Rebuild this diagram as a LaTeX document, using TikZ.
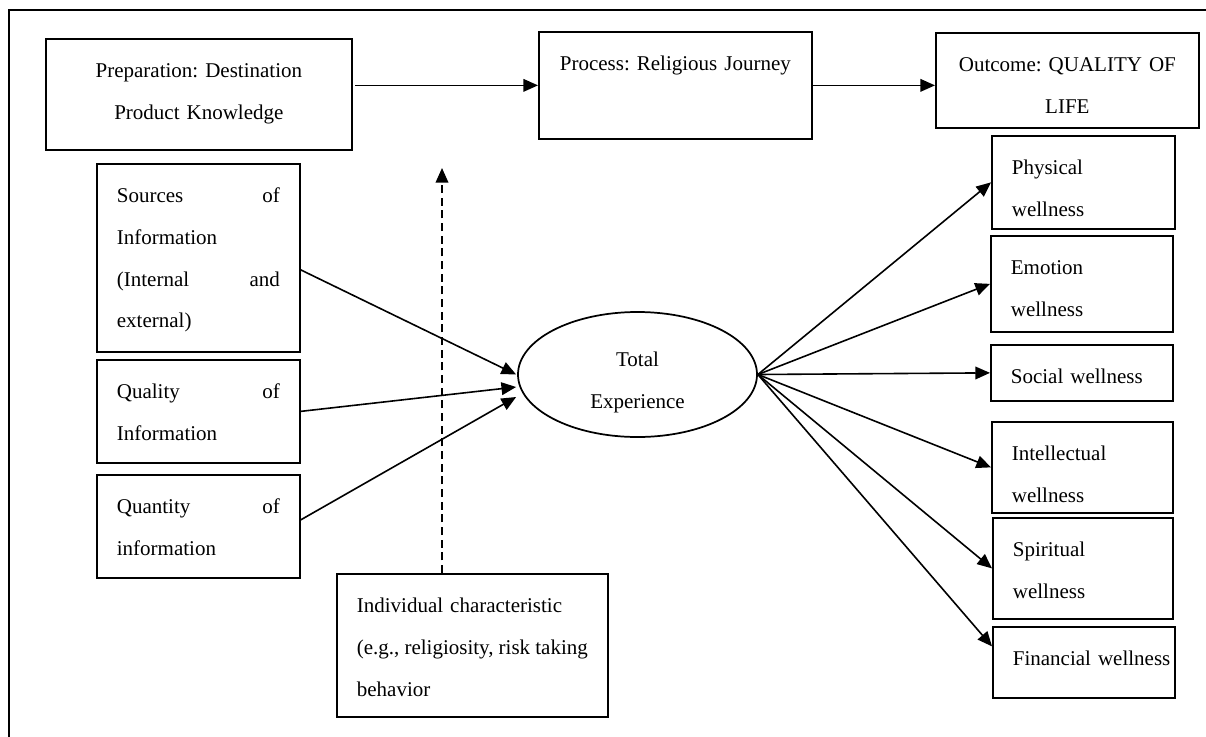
\documentclass[tikz,border=0pt]{standalone}
\usepackage{fontspec}
\setmainfont{Liberation Serif}
\usepackage{tikz}
\usetikzlibrary{positioning,arrows.meta,shapes.geometric,calc}
\hyphenpenalty=10000
\exhyphenpenalty=10000
\frenchspacing

\begin{document}
\begin{tikzpicture}[
    x=0.75pt, y=-0.75pt,
    font=\fontsize{15.75pt}{31.25pt}\selectfont,
    box/.style={rectangle, draw, line width=1.3pt, anchor=north west, inner ysep=0pt, inner xsep=15pt, text height=29.25pt, align=left},
    cbox/.style={box, align=center},
    arr/.style={-{Triangle[length=11pt, width=9.5pt]}, line width=1.2pt},
    modarr/.style={arr, dash pattern=on 6pt off 3.5pt},
]
\useasboundingbox (0,0) rectangle (1206,736);
\draw[line width=1.4pt] (1212,10) -| (9,742);

% top row
\node[cbox, text width=199.5pt, text depth=54pt] (prep) at (45,38) {Preparation: Destination\\Product Knowledge};
\node[cbox, text width=174.75pt, text depth=51pt] (proc) at (538,31) {Process: Religious Journey};
\node[cbox, text width=167.25pt, text depth=42pt] (out) at (935,32) {Outcome: QUALITY OF\\LIFE};

% information boxes
\node[box, text width=122.25pt, text depth=111.75pt] (src) at (96,163) {Sources\hfill of\\Information\\(Internal\hfill and\\external)};
\node[box, text width=122.25pt, text depth=48pt] (qual) at (96,359) {Quality\hfill of\\Information};
\node[box, text width=122.25pt, text depth=48pt] (quan) at (96,474) {Quantity\hfill of\\information};
\node[box, text width=173.25pt, text depth=78pt] (ind) at (336,573) {Individual characteristic\\(e.g.,\hfill religiosity,\hfill risk\hfill taking\\behavior};

% total experience
\node[ellipse, draw, line width=1.3pt, minimum width=179.25pt, minimum height=93.75pt, inner sep=0pt, align=center, text height=53.7pt, text depth=3.45pt] (te) at (637.5,374.5) {Total\\Experience};

% wellness boxes
\node[box, text width=107.25pt, text depth=40.5pt] (phys) at (991,135) {Physical\\wellness};
\node[box, text width=106.5pt, text depth=42.75pt] (emo) at (990,235) {Emotion\\wellness};
\node[box, text width=106.5pt, text depth=12.75pt] (soc) at (990,344) {Social wellness};
\node[box, text width=105.75pt, text depth=39pt] (intel) at (991,421) {Intellectual\\wellness};
\node[box, text width=105pt, text depth=46.5pt] (spir) at (992,517) {Spiritual\\wellness};
\node[box, text width=106.5pt, text depth=24pt] (fin) at (992,626) {Financial~wellness};

\coordinate (modtip) at (442,168);

\draw[arr, shorten <=2pt] (prep.east |- proc.west) -- (proc.west);
\draw[arr] (proc.east) -- (proc.east -| out.west);

\draw[arr] ($(src.east)+(0,12)$) -- ($(te.west)+(-1,0)$);
\draw[arr] (qual.east) -- ($(te.west)+(-1,12.5)$);
\draw[arr] ($(quan.east)+(0,-6.5)$) -- ($(te.west)+(-1,22.5)$);
\draw[modarr] (ind.north -| modtip) -- (modtip);

\draw[arr] (te.east) -- (phys.west);
\draw[arr] (te.east) -- (emo.west);
\draw[arr] (te.east) -- (soc.west);
\draw[arr] (te.east) -- (intel.west);
\draw[arr] (te.east) -- (spir.west);
\draw[arr] (te.east) -- ($(fin.west)+(0,-16)$);
\end{tikzpicture}
\end{document}
